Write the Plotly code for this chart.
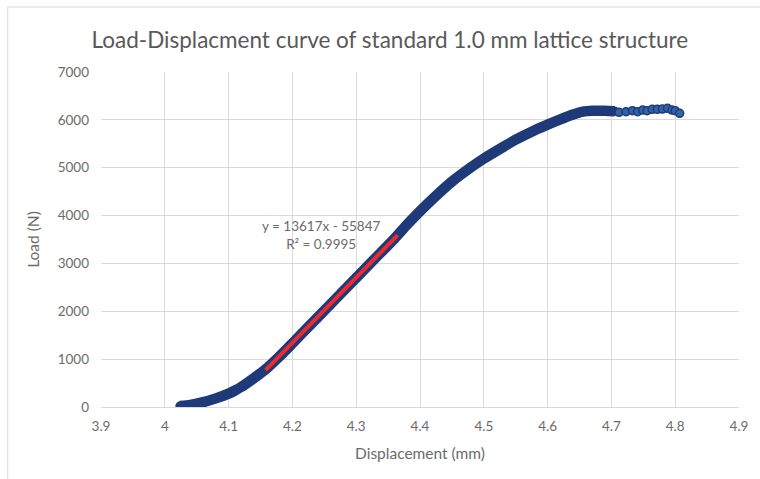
import plotly.graph_objects as go

# Main load-displacement curve (dense part)
disp_main = [4.024, 4.04, 4.06, 4.08, 4.10, 4.11, 4.12, 4.13, 4.14, 4.15, 4.16,
             4.18, 4.20, 4.22, 4.25, 4.28, 4.30, 4.33, 4.36, 4.38, 4.40, 4.42,
             4.45, 4.48, 4.50, 4.53, 4.55, 4.58, 4.60, 4.62, 4.64, 4.655, 4.67,
             4.69, 4.705]
load_main = [20, 45, 100, 180, 280, 345, 420, 510, 605, 705, 810,
             1060, 1330, 1605, 2015, 2425, 2700, 3110, 3520, 3815, 4090, 4350,
             4710, 5010, 5190, 5430, 5585, 5785, 5900, 6010, 6110, 6170, 6190,
             6190, 6180]

# Sparse tail points after the peak
disp_tail = [4.712, 4.723, 4.733, 4.741, 4.749, 4.756, 4.764, 4.772, 4.780, 4.788, 4.795, 4.800, 4.807]
load_tail = [6157, 6170, 6191, 6170, 6205, 6191, 6220, 6220, 6226, 6240, 6205, 6191, 6137]

# Linear trendline y = slope * x + intercept over the fitted range
trend_slope = 13617
trend_intercept = -55847
trend_x = [4.158, 4.365]
trend_y = [trend_slope * x + trend_intercept for x in trend_x]

x_ticks = [3.9, 4.0, 4.1, 4.2, 4.3, 4.4, 4.5, 4.6, 4.7, 4.8, 4.9]
x_tick_labels = ["3.9", "4", "4.1", "4.2", "4.3", "4.4", "4.5", "4.6", "4.7", "4.8", "4.9"]
y_ticks = [0, 1000, 2000, 3000, 4000, 5000, 6000, 7000]

NAVY = "#1f3a78"
FILL = "#3263a8"
GREY = "#6b6b6b"
GRID = "#d9d9d9"
FONT = "Lato"

fig = go.Figure()
fig.add_trace(go.Scatter(
    x=disp_main, y=load_main, mode="lines+markers",
    line=dict(color=NAVY, width=10.5, shape="spline", smoothing=0.6),
    marker=dict(size=9.5, color=NAVY),
    showlegend=False, hoverinfo="x+y"))
fig.add_trace(go.Scatter(
    x=disp_tail, y=load_tail, mode="markers",
    marker=dict(size=8, color=FILL, line=dict(color=NAVY, width=1.5)),
    showlegend=False, hoverinfo="x+y"))
fig.add_trace(go.Scatter(
    x=trend_x, y=trend_y, mode="lines",
    line=dict(color="#ee2a2f", width=4),
    showlegend=False, hoverinfo="skip"))

fig.add_annotation(
    x=4.245, y=3595, xref="x", yref="y",
    text="y = 13617x - 55847<br>R² = 0.9995",
    showarrow=False, font=dict(family=FONT, size=13.5, color=GREY), align="center")

# light chart-area border (top and left edges visible)
fig.add_shape(type="line", xref="paper", yref="paper", x0=-0.1462, x1=1.2, y0=1.194, y1=1.194,
              line=dict(color=GRID, width=1))
fig.add_shape(type="line", xref="paper", yref="paper", x0=-0.1462, x1=-0.1462, y0=-0.4, y1=1.194,
              line=dict(color=GRID, width=1))

fig.update_layout(
    width=760, height=479, autosize=False,
    margin=dict(l=101, r=16, t=72, b=72),
    paper_bgcolor="white", plot_bgcolor="white",
    font=dict(family=FONT, color=GREY, size=13),
    title=dict(text="Load-Displacment curve of standard 1.0 mm lattice structure",
               x=0.513, xref="container", xanchor="center",
               y=1 - 40 / 479, yref="container", yanchor="middle",
               font=dict(family=FONT, size=22.5, color="#595959")),
    xaxis=dict(range=[3.9, 4.9], tickvals=x_ticks, ticktext=x_tick_labels,
               showgrid=True, gridcolor=GRID, gridwidth=1, zeroline=False,
               showline=True, linecolor=GRID, mirror=False, ticks="", ticklabelstandoff=7,
               tickfont=dict(family=FONT, size=13.5, color=GREY),
               title=dict(text="Displacement (mm)", font=dict(family=FONT, size=15.5, color=GREY),
                          standoff=14)),
    yaxis=dict(range=[0, 7000], tickvals=y_ticks,
               showgrid=True, gridcolor=GRID, gridwidth=1, zeroline=False,
               showline=False, ticks="", ticklabelstandoff=11,
               tickfont=dict(family=FONT, size=13.5, color=GREY),
               title=dict(text="Load (N)", font=dict(family=FONT, size=15.5, color=GREY),
                          standoff=14)),
)

fig.write_html("out.html", config={"displayModeBar": False},
               post_script="document.body.style.margin='0';")
